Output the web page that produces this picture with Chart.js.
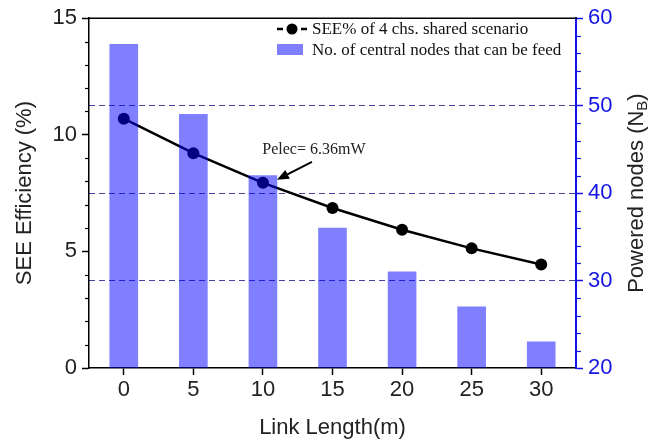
<!DOCTYPE html>
<html>
<head>
<meta charset="utf-8">
<script src="https://cdn.jsdelivr.net/npm/chart.js@4/dist/chart.umd.min.js"></script>
<style>
html,body{margin:0;padding:0;background:#fff;}
#wrap{width:666px;height:444px;}
</style>
</head>
<body>
<div id="wrap"><canvas id="c" width="666" height="444"></canvas></div>
<script>
// ---- data ----
const linkLength = [0, 5, 10, 15, 20, 25, 30];
const seeEfficiency = [10.69, 9.21, 7.94, 6.86, 5.93, 5.13, 4.44];
const poweredNodes = [57, 49, 42, 36, 31, 27, 23];
const xTicks = [0, 5, 10, 15, 20, 25, 30];
const leftTicks = [0, 5, 10, 15];
const rightTicks = [20, 30, 40, 50, 60];
const leftMinorTicks = [1, 2, 3, 4, 6, 7, 8, 9, 11, 12, 13, 14];
const rightMinorTicks = [22, 24, 26, 28, 32, 34, 36, 38, 42, 44, 46, 48, 52, 54, 56, 58];
const lineLabel = 'SEE% of 4 chs. shared scenario';
const barLabel = 'No. of central nodes that can be feed';
const annotationText = 'Pelec= 6.36mW';
const annotationIndex = 2;

const SANS = "'Liberation Sans', Arial, sans-serif";
const SERIF = "'Liberation Serif', 'Times New Roman', serif";
const BLUE = '#1414e6';

const deco = {
  id: 'deco',
  afterDraw(chart) {
    const {ctx, chartArea: a, scales: {x, y, y2}} = chart;
    ctx.save();
    // top frame line
    ctx.strokeStyle = '#000'; ctx.lineWidth = 1.5;
    ctx.beginPath(); ctx.moveTo(a.left, a.top); ctx.lineTo(a.right + 1, a.top); ctx.stroke();
    // minor ticks left
    ctx.lineWidth = 1.2;
    leftMinorTicks.forEach(v => {
      const p = Math.round(y.getPixelForValue(v)) + 0.5;
      ctx.beginPath(); ctx.moveTo(a.left - 4, p); ctx.lineTo(a.left, p); ctx.stroke();
    });
    // minor ticks right
    ctx.strokeStyle = BLUE;
    rightMinorTicks.forEach(v => {
      const p = Math.round(y2.getPixelForValue(v)) + 0.5;
      ctx.beginPath(); ctx.moveTo(a.right, p); ctx.lineTo(a.right + 5, p); ctx.stroke();
    });
    // annotation arrow
    const px = x.getPixelForValue(linkLength[annotationIndex]);
    const py = y.getPixelForValue(seeEfficiency[annotationIndex]);
    const tipX = px + 14, tipY = py - 3;
    const tailX = px + 49, tailY = py - 21;
    const ang = Math.atan2(tipY - tailY, tipX - tailX);
    ctx.strokeStyle = '#000'; ctx.fillStyle = '#000'; ctx.lineWidth = 2;
    ctx.beginPath(); ctx.moveTo(tailX, tailY);
    ctx.lineTo(tipX - 8 * Math.cos(ang), tipY - 8 * Math.sin(ang)); ctx.stroke();
    ctx.beginPath();
    ctx.moveTo(tipX, tipY);
    ctx.lineTo(tipX - 12 * Math.cos(ang) + 5 * Math.sin(ang), tipY - 12 * Math.sin(ang) - 5 * Math.cos(ang));
    ctx.lineTo(tipX - 12 * Math.cos(ang) - 5 * Math.sin(ang), tipY - 12 * Math.sin(ang) + 5 * Math.cos(ang));
    ctx.closePath(); ctx.fill();
    ctx.font = '16px ' + SERIF;
    ctx.textAlign = 'center'; ctx.textBaseline = 'alphabetic';
    ctx.fillStyle = '#222';
    ctx.fillText(annotationText, px + 51, py - 29);
    // legend
    const lx = 277;
    ctx.strokeStyle = '#000'; ctx.lineWidth = 2.5;
    ctx.beginPath(); ctx.moveTo(lx, 29); ctx.lineTo(lx + 6, 29); ctx.stroke();
    ctx.beginPath(); ctx.moveTo(lx + 24, 29); ctx.lineTo(lx + 30, 29); ctx.stroke();
    ctx.fillStyle = '#000';
    ctx.beginPath(); ctx.arc(lx + 15, 29, 5.5, 0, Math.PI * 2); ctx.fill();
    ctx.fillStyle = 'rgba(0,0,255,0.5)';
    ctx.fillRect(lx, 44, 26, 11);
    ctx.font = '17px ' + SERIF;
    ctx.textAlign = 'left';
    ctx.fillStyle = '#111';
    ctx.fillText(lineLabel, 312, 34);
    ctx.fillText(barLabel, 312, 55);
    // right axis title with subscript
    ctx.translate(637, (a.top + a.bottom) / 2);
    ctx.rotate(-Math.PI / 2);
    const main = 'Powered nodes (N';
    const sub = 'B';
    const end = ')';
    ctx.font = '22px ' + SANS;
    const w1 = ctx.measureText(main).width;
    const w3 = ctx.measureText(end).width;
    ctx.font = '15px ' + SANS;
    const w2 = ctx.measureText(sub).width;
    const total = w1 + w2 + w3;
    let cx = -total / 2;
    ctx.fillStyle = '#222';
    ctx.textBaseline = 'middle';
    ctx.font = '22px ' + SANS;
    ctx.fillText(main, cx, 0); cx += w1;
    ctx.font = '15px ' + SANS;
    ctx.fillText(sub, cx, 6); cx += w2;
    ctx.font = '22px ' + SANS;
    ctx.fillText(end, cx, 0);
    ctx.restore();
  }
};

new Chart(document.getElementById('c'), {
  type: 'bar',
  data: {
    datasets: [
      {
        type: 'line',
        label: lineLabel,
        data: linkLength.map((v, i) => ({x: v, y: seeEfficiency[i]})),
        yAxisID: 'y',
        borderColor: '#000',
        backgroundColor: '#000',
        borderWidth: 2.5,
        pointRadius: 6,
        pointBackgroundColor: '#000',
        pointBorderWidth: 0,
        tension: 0,
        order: 1
      },
      {
        type: 'bar',
        label: barLabel,
        data: linkLength.map((v, i) => ({x: v, y: poweredNodes[i]})),
        yAxisID: 'y2',
        backgroundColor: 'rgba(0,0,255,0.5)',
        borderWidth: 0,
        barThickness: 28,
        base: 20,
        order: 0
      }
    ]
  },
  options: {
    responsive: false,
    animation: false,
    layout: {padding: {top: 12, left: 0, right: 0, bottom: 0}},
    plugins: {legend: {display: false}, tooltip: {enabled: false}},
    scales: {
      x: {
        type: 'linear',
        position: 'bottom',
        min: -2.5, max: 32.5,
        offset: false,
        afterBuildTicks: s => { s.ticks = xTicks.map(v => ({value: v})); },
        afterFit: s => { s.height = 76; },
        ticks: {font: {size: 22, family: SANS}, color: '#222', padding: 2, maxRotation: 0, autoSkip: false},
        grid: {drawOnChartArea: false, drawTicks: true, tickLength: 7, tickColor: '#000', tickWidth: 1.5, offset: false},
        border: {color: '#000', width: 1.5},
        title: {display: true, text: 'Link Length(m)', font: {size: 22, family: SANS}, color: '#222', padding: {top: 0, bottom: 3}}
      },
      y: {
        position: 'left',
        min: 0, max: 15,
        afterBuildTicks: s => { s.ticks = leftTicks.map(v => ({value: v})); },
        afterFit: s => { s.width = 89; },
        ticks: {font: {size: 22, family: SANS}, color: '#222', padding: 5},
        grid: {drawOnChartArea: false, drawTicks: true, tickLength: 7, tickColor: '#000', tickWidth: 1.5},
        border: {color: '#000', width: 1.5},
        title: {display: true, text: 'SEE Efficiency (%)', font: {size: 22, family: SANS}, color: '#222', padding: {top: 12, bottom: 0}}
      },
      y2: {
        position: 'right',
        min: 20, max: 60,
        afterBuildTicks: s => { s.ticks = rightTicks.map(v => ({value: v})); },
        afterFit: s => { s.width = 90; },
        ticks: {font: {size: 22, family: SANS}, color: BLUE, padding: 5},
        grid: {
          drawOnChartArea: true, drawTicks: true, tickLength: 7, tickColor: BLUE, tickWidth: 1.5,
          color: c => (c.tick && (c.tick.value === 20 || c.tick.value === 60)) ? 'rgba(0,0,0,0)' : '#4646a6',
          lineWidth: 1
        },
        border: {color: BLUE, width: 2, dash: [6, 4]}
      }
    }
  },
  plugins: [deco]
});
</script>
</body>
</html>
